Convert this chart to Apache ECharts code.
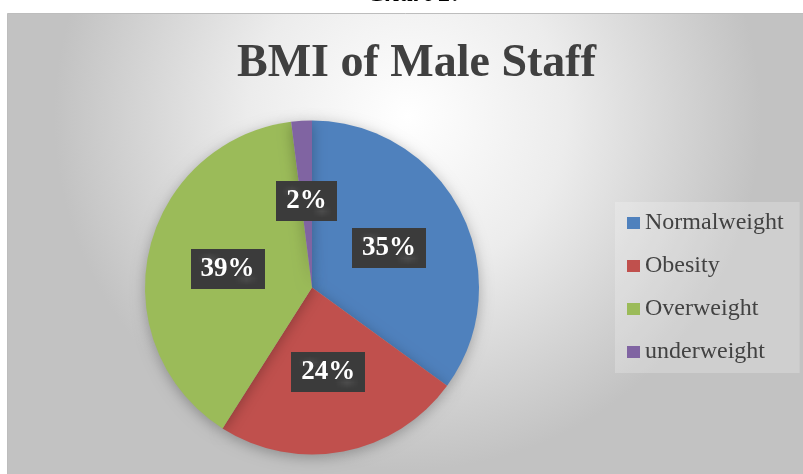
<!DOCTYPE html>
<html>
<head>
<meta charset="utf-8">
<script src="https://cdn.jsdelivr.net/npm/echarts@6/dist/echarts.min.js"></script>
<style>
  html, body { margin: 0; padding: 0; background: #ffffff; }
  #chart { width: 803px; height: 474px; }
</style>
</head>
<body>
<div id="chart"></div>
<script>
// BMI categories and their share of male staff (percent)
const categories = ['Normalweight', 'Obesity', 'Overweight', 'underweight'];
const shares = [35, 24, 39, 2];
const sliceColors = ['#4f81bd', '#c0504d', '#9bbb59', '#8064a2'];

// Dark dotted fill used behind the data labels
function dottedTile() {
  const c = document.createElement('canvas');
  c.width = 6; c.height = 6;
  const g = c.getContext('2d');
  g.fillStyle = '#3b3b3b';
  g.fillRect(0, 0, 6, 6);
  g.fillStyle = '#4d4d4d';
  g.fillRect(1, 1, 1, 1);
  g.fillRect(4, 4, 1, 1);
  return c;
}
const tile = dottedTile();

const chart = echarts.init(document.getElementById('chart'), null, { renderer: 'canvas' });

chart.setOption({
  animation: false,
  backgroundColor: '#ffffff',
  graphic: [
    {
      type: 'text', left: 367, top: -19, z: 0,
      style: {
        text: 'Chart 1:', fill: '#000',
        font: 'italic bold 27px "Liberation Serif"'
      }
    },
    {
      type: 'rect', z: -10, silent: true,
      shape: { x: 7.5, y: 13.5, width: 800, height: 470 },
      style: {
        fill: new echarts.graphic.RadialGradient(0.5, 0.22, 0.75, [
          { offset: 0, color: '#ffffff' },
          { offset: 0.45, color: '#ececec' },
          { offset: 1, color: '#c2c2c2' }
        ]),
        stroke: '#bdbdbd', lineWidth: 1
      }
    }
  ],
  title: {
    text: 'BMI of Male Staff',
    left: 232,
    top: 36,
    textStyle: {
      fontFamily: '"Liberation Serif", serif',
      fontWeight: 'bold',
      fontSize: 46,
      color: '#404040'
    }
  },
  legend: {
    orient: 'vertical',
    left: 615,
    top: 202,
    padding: [9, 16, 9, 12],
    backgroundColor: 'rgba(255,255,255,0.22)',
    icon: 'rect',
    itemWidth: 13,
    itemHeight: 12,
    itemGap: 19,
    data: categories,
    textStyle: {
      fontFamily: '"Liberation Serif", serif',
      fontSize: 24,
      lineHeight: 24,
      color: '#424242'
    }
  },
  series: [{
    type: 'pie',
    center: [312, 287.5],
    radius: 167,
    startAngle: 90,
    clockwise: true,
    avoidLabelOverlap: false,
    itemStyle: {
      shadowBlur: 14,
      shadowColor: 'rgba(0,0,0,0.28)',
      shadowOffsetY: 3
    },
    label: {
      show: true,
      position: 'inside',
      formatter: '{d}%',
      fontFamily: '"Liberation Serif", serif',
      fontWeight: 'bold',
      fontSize: 27,
      lineHeight: 27,
      color: '#ffffff',
      backgroundColor: { image: tile },
      padding: [7, 10, 6, 10],
      shadowColor: 'rgba(0,0,0,0.45)',
      shadowBlur: 5,
      shadowOffsetX: 3,
      shadowOffsetY: 3
    },
    labelLine: { show: false },
    emphasis: { disabled: true },
    data: categories.map((name, i) => ({
      name: name,
      value: shares[i],
      itemStyle: { color: sliceColors[i] }
    }))
  }]
});
</script>
</body>
</html>
